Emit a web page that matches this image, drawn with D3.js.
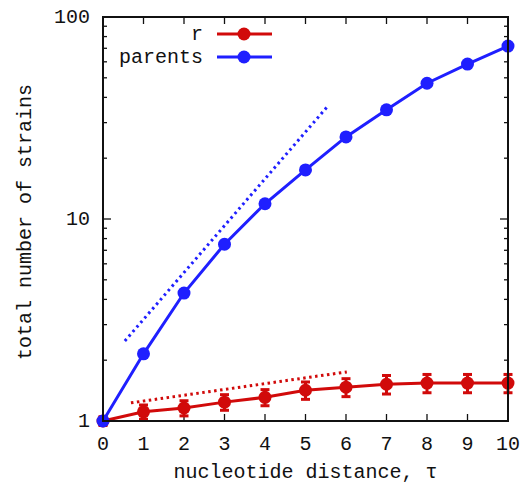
<!DOCTYPE html>
<html>
<head>
<meta charset="utf-8">
<script src="https://cdn.jsdelivr.net/npm/d3@7"></script>
<style>
  body { margin: 0; background: #fff; }
  svg text { font-family: "Liberation Mono", "DejaVu Sans Mono", monospace; fill: #111; }
</style>
</head>
<body>
<div id="chart"></div>
<script>
var tau = [0, 1, 2, 3, 4, 5, 6, 7, 8, 9, 10];
var parents = [1, 2.15, 4.3, 7.5, 11.9, 17.5, 25.5, 34.7, 47, 58.5, 71.8];
var rValues = [1, 1.11, 1.16, 1.24, 1.31, 1.42, 1.47, 1.52, 1.54, 1.54, 1.54];
var rErr = [0.05, 0.09, 0.10, 0.11, 0.12, 0.14, 0.15, 0.16, 0.16, 0.16, 0.16];
var blueGuide = [[0.54, 2.49], [5.53, 35.8]];
var redGuide = [[0.69, 1.23], [6.02, 1.75]];
var xTicks = [0, 1, 2, 3, 4, 5, 6, 7, 8, 9, 10];
var yTicks = [1, 10, 100];

var width = 527, height = 487;
var margin = {left: 103, right: 19, top: 17, bottom: 66};
var blue = '#1f1fff', red = '#d10a0a';

var svg = d3.select('#chart').append('svg')
    .attr('width', width).attr('height', height);

var x = d3.scaleLinear().domain([0, 10]).range([margin.left, width - margin.right]);
var y = d3.scaleLog().domain([1, 100]).range([height - margin.bottom, margin.top]);

var x0 = x.range()[0], x1 = x.range()[1], y0 = y.range()[0], y1 = y.range()[1];

// minor ticks on log axis
var minor = [];
[1, 10].forEach(function(d) {
    for (var k = 2; k <= 9; k++) minor.push(d * k);
});

var ticks = svg.append('g').attr('stroke', '#111').attr('stroke-width', 1.3);
xTicks.forEach(function(t) {
    ticks.append('line').attr('x1', x(t)).attr('x2', x(t)).attr('y1', y0).attr('y2', y0 - 7);
    ticks.append('line').attr('x1', x(t)).attr('x2', x(t)).attr('y1', y1).attr('y2', y1 + 7);
});
yTicks.forEach(function(t) {
    ticks.append('line').attr('x1', x0).attr('x2', x0 + 8).attr('y1', y(t)).attr('y2', y(t));
    ticks.append('line').attr('x1', x1).attr('x2', x1 - 8).attr('y1', y(t)).attr('y2', y(t));
});
minor.forEach(function(t) {
    ticks.append('line').attr('x1', x0).attr('x2', x0 + 4).attr('y1', y(t)).attr('y2', y(t));
    ticks.append('line').attr('x1', x1).attr('x2', x1 - 4).attr('y1', y(t)).attr('y2', y(t));
});

svg.append('g').selectAll('text').data(xTicks).join('text')
    .attr('x', function(d) { return x(d); })
    .attr('y', y0 + 29)
    .attr('text-anchor', 'middle')
    .attr('font-size', 20)
    .text(function(d) { return d; });

svg.append('g').selectAll('text').data(yTicks).join('text')
    .attr('x', x0 - 13)
    .attr('y', function(d) { return y(d) + 6; })
    .attr('text-anchor', 'end')
    .attr('font-size', 20)
    .text(function(d) { return d; });

svg.append('text')
    .attr('x', (x0 + x1) / 2)
    .attr('y', height - 9)
    .attr('text-anchor', 'middle')
    .attr('font-size', 20)
    .text('nucleotide distance, τ');

svg.append('text')
    .attr('transform', 'translate(31,' + ((y0 + y1) / 2 + 3) + ') rotate(-90)')
    .attr('text-anchor', 'middle')
    .attr('font-size', 20)
    .text('total number of strains');

var line = d3.line()
    .x(function(d) { return x(d[0]); })
    .y(function(d) { return y(d[1]); });

// dotted guides
svg.append('path').datum(blueGuide).attr('d', line)
    .attr('fill', 'none').attr('stroke', blue).attr('stroke-width', 3)
    .attr('stroke-dasharray', '2.5,3.5');
svg.append('path').datum(redGuide).attr('d', line)
    .attr('fill', 'none').attr('stroke', red).attr('stroke-width', 3)
    .attr('stroke-dasharray', '2.5,3.5');

// r series with error bars
var rData = tau.map(function(t, i) { return [t, rValues[i], rErr[i]]; });
svg.append('path').datum(rData).attr('d', line)
    .attr('fill', 'none').attr('stroke', red).attr('stroke-width', 3);
var eb = svg.append('g').attr('stroke', red).attr('stroke-width', 3);
rData.forEach(function(d) {
    var yt = y(d[1] + d[2]), yb = y(d[1] - d[2]);
    eb.append('line').attr('x1', x(d[0])).attr('x2', x(d[0])).attr('y1', yt).attr('y2', yb);
    eb.append('line').attr('x1', x(d[0]) - 4.5).attr('x2', x(d[0]) + 4.5).attr('y1', yt).attr('y2', yt);
    eb.append('line').attr('x1', x(d[0]) - 4.5).attr('x2', x(d[0]) + 4.5).attr('y1', yb).attr('y2', yb);
});
svg.append('g').selectAll('circle').data(rData).join('circle')
    .attr('cx', function(d) { return x(d[0]); })
    .attr('cy', function(d) { return y(d[1]); })
    .attr('r', 6.5).attr('fill', red);

// parents series
var pData = tau.map(function(t, i) { return [t, parents[i]]; });
svg.append('path').datum(pData).attr('d', line)
    .attr('fill', 'none').attr('stroke', blue).attr('stroke-width', 3);
svg.append('g').selectAll('circle').data(pData).join('circle')
    .attr('cx', function(d) { return x(d[0]); })
    .attr('cy', function(d) { return y(d[1]); })
    .attr('r', 6.5).attr('fill', blue);

// frame
svg.append('rect')
    .attr('x', x0).attr('y', y1).attr('width', x1 - x0).attr('height', y0 - y1)
    .attr('fill', 'none').attr('stroke', '#111').attr('stroke-width', 2);

// legend
var legend = [{name: 'r', color: red}, {name: 'parents', color: blue}];
var lg = svg.append('g');
legend.forEach(function(d, i) {
    var ly = 34 + i * 23;
    lg.append('text').attr('x', 203).attr('y', ly + 6).attr('text-anchor', 'end')
        .attr('font-size', 20).text(d.name);
    lg.append('line').attr('x1', 217).attr('x2', 272).attr('y1', ly).attr('y2', ly)
        .attr('stroke', d.color).attr('stroke-width', 3);
    lg.append('circle').attr('cx', 244).attr('cy', ly).attr('r', 6.5).attr('fill', d.color);
});
</script>
</body>
</html>
